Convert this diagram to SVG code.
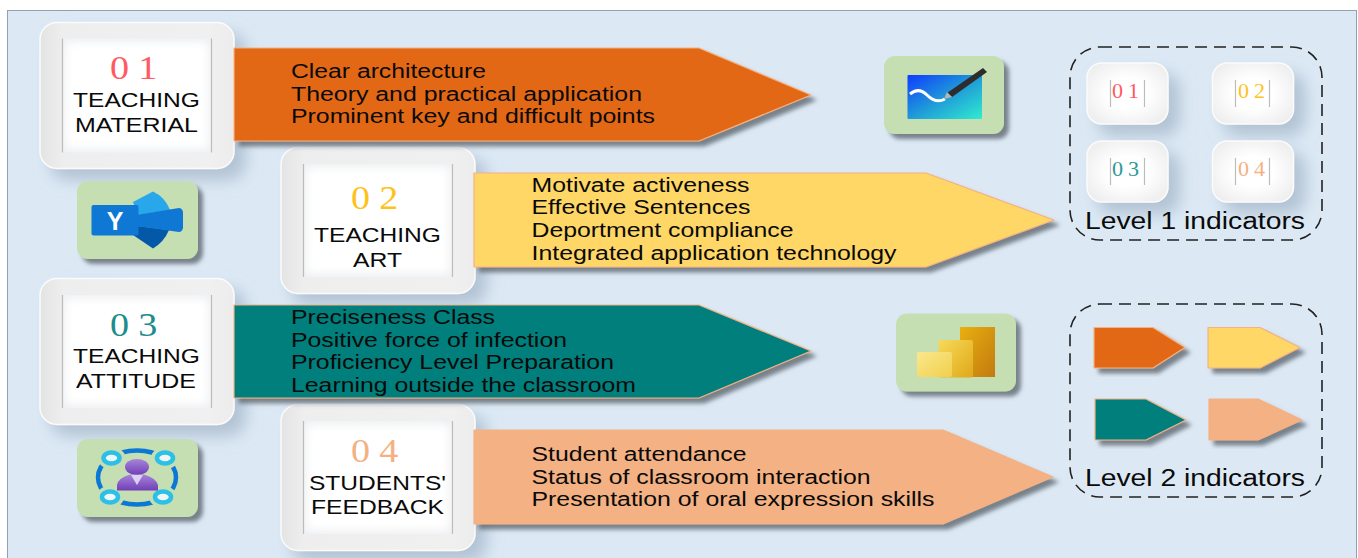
<svg xmlns="http://www.w3.org/2000/svg" width="1358" height="558" viewBox="0 0 1358 558">
<defs>
<style>
text{font-family:"Liberation Sans",Arial,sans-serif;fill:#0a0a0a}
.num{font-family:"Liberation Serif","Times New Roman",serif;font-size:33px;letter-spacing:8px}
.snum{font-family:"Liberation Serif","Times New Roman",serif;font-size:20px;letter-spacing:4.500px}
.lab{font-size:21px}
.body{font-size:19.5px}
.lvl{font-size:23px}
.card{fill:url(#cardG);stroke:#fbfbfb;stroke-width:1.5;filter:url(#soft)}
.sm{fill:url(#smG);stroke:#fbfbfb;stroke-width:1.5;filter:url(#soft)}
.inner{fill:#fff;filter:url(#fade)}
.edge{stroke:#bcbcbc;stroke-width:1.2}
.arrow{stroke:#f4b183;stroke-width:1.2;stroke-linejoin:bevel;filter:url(#hard)}
.tile{fill:#c5dfb3;filter:url(#hard)}
.dash{fill:none;stroke:#222;stroke-width:1.6;stroke-dasharray:12 7}
.c1{fill:#ff5a5f}.c2{fill:#ffc21c}.c3{fill:#1c8c8c}.c4{fill:#f4b183}
.s3{fill:#2a9a9a}
.f1{fill:#e36713}.f2{fill:#ffd766}.f3{fill:#007f7c}.f4{fill:#f4b183}
</style>
<linearGradient id="cardG" x1="0" y1="0" x2="1" y2="0"><stop offset="0" stop-color="#e4e4e4"/><stop offset=".12" stop-color="#eeeeee"/><stop offset=".88" stop-color="#f0f0f0"/><stop offset="1" stop-color="#ececec"/></linearGradient>
<radialGradient id="smG" cx=".5" cy=".5" r=".7"><stop offset=".35" stop-color="#ffffff"/><stop offset="1" stop-color="#e9e9e9"/></radialGradient>
<linearGradient id="wb" x1="0" y1="0" x2="1" y2="1"><stop offset="0" stop-color="#0f3cff"/><stop offset=".5" stop-color="#1f9ad8"/><stop offset="1" stop-color="#30ecd0"/></linearGradient>
<linearGradient id="pb1" x1="0" y1="0" x2="1" y2="1"><stop offset="0" stop-color="#e8b010"/><stop offset="1" stop-color="#c27a10"/></linearGradient>
<linearGradient id="pb2" x1="0" y1="0" x2="1" y2="1"><stop offset="0" stop-color="#f6da5a"/><stop offset="1" stop-color="#e0a818"/></linearGradient>
<linearGradient id="pb3" x1="0" y1="0" x2="1" y2="1"><stop offset="0" stop-color="#fbe88e"/><stop offset="1" stop-color="#f0cf4c"/></linearGradient>
<linearGradient id="pers" x1="0" y1="0" x2="0" y2="1"><stop offset="0" stop-color="#a884dc"/><stop offset="1" stop-color="#6f3fb4"/></linearGradient>
<filter id="soft" x="-20%" y="-20%" width="160%" height="160%"><feDropShadow dx="11" dy="11" stdDeviation="8" flood-color="#8fa3b8" flood-opacity=".55"/></filter>
<filter id="hard" x="-10%" y="-10%" width="125%" height="130%"><feDropShadow dx="5" dy="5" stdDeviation="2" flood-color="#5f6770" flood-opacity=".8"/></filter>
<filter id="fade" x="0" y="0" width="100%" height="100%"><feFlood flood-color="#eceef1" result="b"/><feMorphology in="SourceAlpha" operator="erode" radius="3" result="e"/><feGaussianBlur in="e" stdDeviation="5" result="g"/><feFlood flood-color="#ffffff"/><feComposite in2="g" operator="in" result="w"/><feMerge result="m"><feMergeNode in="b"/><feMergeNode in="w"/></feMerge><feComposite in="m" in2="SourceAlpha" operator="in"/></filter>
</defs>
<rect width="1358" height="558" fill="#ffffff"/>
<rect id="panel" x="7.5" y="10.5" width="1349" height="560" fill="#dce9f5" stroke="#93a0ad" stroke-width="1"/>

<g id="card1"><rect class="card" x="40" y="22.500" width="194" height="146" rx="17"/><rect class="inner" x="62" y="38.500" width="150" height="114"/><path class="edge" d="M62.500 38.500V152.500M211.500 38.500V152.500"/>
<text class="num c1" x="110" y="79" textLength="56.500" lengthAdjust="spacingAndGlyphs">01</text>
<text class="lab" x="73" y="107" textLength="127" lengthAdjust="spacingAndGlyphs">TEACHING</text>
<text class="lab" x="75" y="132" textLength="123" lengthAdjust="spacingAndGlyphs">MATERIAL</text></g>
<g id="card3"><rect class="card" x="40" y="278.500" width="194" height="146" rx="17"/><rect class="inner" x="62" y="295" width="150" height="113"/><path class="edge" d="M62.500 295V408M211.500 295V408"/>
<text class="num c3" x="110" y="336" textLength="56.500" lengthAdjust="spacingAndGlyphs">03</text>
<text class="lab" x="73" y="363" textLength="127" lengthAdjust="spacingAndGlyphs">TEACHING</text>
<text class="lab" x="76" y="388" textLength="120" lengthAdjust="spacingAndGlyphs">ATTITUDE</text></g>
<g id="card2"><rect class="card" x="281" y="147.500" width="194" height="146" rx="17"/><rect class="inner" x="303" y="164" width="150" height="113"/><path class="edge" d="M303.500 164V277M452.500 164V277"/>
<text class="num c2" x="351" y="209" textLength="56.500" lengthAdjust="spacingAndGlyphs">02</text>
<text class="lab" x="314" y="242" textLength="127" lengthAdjust="spacingAndGlyphs">TEACHING</text>
<text class="lab" x="353" y="267" textLength="49" lengthAdjust="spacingAndGlyphs">ART</text></g>
<g id="card4"><rect class="card" x="281" y="404.500" width="194" height="146" rx="17"/><rect class="inner" x="303" y="421" width="150" height="113"/><path class="edge" d="M303.500 421V534M452.500 421V534"/>
<text class="num c4" x="351" y="462" textLength="56.500" lengthAdjust="spacingAndGlyphs">04</text>
<text class="lab" x="309" y="490" textLength="137" lengthAdjust="spacingAndGlyphs">STUDENTS'</text>
<text class="lab" x="311" y="514" textLength="133" lengthAdjust="spacingAndGlyphs">FEEDBACK</text></g>

<g id="arrow1"><polygon class="arrow f1" points="234,48 699,48 811,95 699,141 234,141"/>
<text class="body" x="291" y="78" textLength="195" lengthAdjust="spacingAndGlyphs">Clear architecture</text>
<text class="body" x="291" y="101" textLength="351" lengthAdjust="spacingAndGlyphs">Theory and practical application</text>
<text class="body" x="291" y="123" textLength="364" lengthAdjust="spacingAndGlyphs">Prominent key and difficult points</text></g>
<g id="arrow3"><polygon class="arrow f3" points="234,305 699,305 811,351 699,398 234,398"/>
<text class="body" x="291" y="324" textLength="204" lengthAdjust="spacingAndGlyphs">Preciseness Class</text>
<text class="body" x="291" y="347" textLength="276" lengthAdjust="spacingAndGlyphs">Positive force of infection</text>
<text class="body" x="291" y="369" textLength="323" lengthAdjust="spacingAndGlyphs">Proficiency Level Preparation</text>
<text class="body" x="291" y="392" textLength="345" lengthAdjust="spacingAndGlyphs">Learning outside the classroom</text></g>
<g id="arrow2"><polygon class="arrow f2" points="474,173 926,173 1054,220 926,267 474,267"/>
<text class="body" x="531.500" y="192" textLength="218" lengthAdjust="spacingAndGlyphs">Motivate activeness</text>
<text class="body" x="531.500" y="214" textLength="219" lengthAdjust="spacingAndGlyphs">Effective Sentences</text>
<text class="body" x="531.500" y="237" textLength="262" lengthAdjust="spacingAndGlyphs">Deportment compliance</text>
<text class="body" x="531.500" y="260" textLength="365" lengthAdjust="spacingAndGlyphs">Integrated application technology</text></g>
<g id="arrow4"><polygon class="arrow f4" points="474,430 943,430 1053,477 943,524 474,524"/>
<text class="body" x="531.500" y="461" textLength="215" lengthAdjust="spacingAndGlyphs">Student attendance</text>
<text class="body" x="531.500" y="484" textLength="339" lengthAdjust="spacingAndGlyphs">Status of classroom interaction</text>
<text class="body" x="531.500" y="506" textLength="403" lengthAdjust="spacingAndGlyphs">Presentation of oral expression skills</text></g>

<g id="icon-yammer"><rect class="tile" x="77" y="181" width="121" height="78" rx="11"/>
<path d="M133 202L153 191.500Q165 197 170 210L138 215Z" fill="#28a8ea"/>
<path d="M133 235L153 248.500Q164 242 169 230L138 226Z" fill="#0358a7"/>
<path d="M136 215L179 208Q182 208 183 212V228Q182 232 179 232L136 226Z" fill="#0f78d4"/>
<rect x="91.500" y="205" width="47" height="30.500" rx="2" fill="#0f78d4"/>
<text x="115" y="229.500" text-anchor="middle" font-size="25" font-weight="700" style="fill:#fff">Y</text></g>

<g id="icon-whiteboard"><rect class="tile" x="884" y="56" width="120" height="78" rx="11"/>
<rect x="907.500" y="75" width="74.500" height="44" rx="1" fill="url(#wb)"/>
<path d="M910 94C916 89 922 90 927 95C932 100 938 103 945 99" fill="none" stroke="#fff" stroke-width="3"/>
<path d="M947 93L983 68L987 72L952 97Z" fill="#2d2d2d"/>
<path d="M947 92L952 97L944 99Z" fill="#b5b5b5"/></g>

<g id="icon-powerbi"><rect class="tile" x="896" y="313.500" width="120" height="78" rx="11"/>
<rect x="960" y="327" width="35" height="50" fill="url(#pb1)"/>
<rect x="938.500" y="340" width="34.500" height="37.500" rx="2" fill="url(#pb2)"/>
<rect x="917" y="352" width="35" height="25" rx="2" fill="url(#pb3)"/></g>

<g id="icon-people"><rect class="tile" x="77" y="439" width="121" height="78" rx="11"/>
<ellipse cx="137" cy="477.500" rx="39" ry="27" fill="none" stroke="#0a78d4" stroke-width="4.500"/>
<g fill="#c5dfb3"><ellipse cx="111.500" cy="458" rx="14" ry="11"/><ellipse cx="165" cy="458" rx="14" ry="11"/><ellipse cx="110" cy="497" rx="14" ry="11"/><ellipse cx="163" cy="497" rx="14" ry="11"/></g>
<g fill="#eef7f8" stroke="#2cc0e6" stroke-width="4.500"><ellipse cx="111.500" cy="458" rx="8" ry="5.500"/><ellipse cx="165" cy="458" rx="8" ry="5.500"/><ellipse cx="110" cy="497" rx="8" ry="5.500"/><ellipse cx="163" cy="497" rx="8" ry="5.500"/></g>
<ellipse cx="137" cy="467" rx="12" ry="8" fill="url(#pers)"/>
<path d="M117 490.500V485Q118 478 130 474.500H144Q156 478 158 485V490.500Z" fill="url(#pers)"/>
<path d="M131 475H143L137 485Z" fill="#ded0f2"/></g>

<g id="level1"><rect class="dash" x="1070" y="47" width="252" height="193" rx="30"/>
<g id="s1"><rect class="sm" x="1087" y="63" width="81" height="61" rx="15"/><path class="edge" d="M1110.500 80V107M1144.500 80V107"/><text class="snum c1" x="1112" y="98" textLength="32" lengthAdjust="spacingAndGlyphs">01</text></g>
<g id="s2"><rect class="sm" x="1212.500" y="63" width="81" height="61" rx="15"/><path class="edge" d="M1235.500 80V107M1269.500 80V107"/><text class="snum c2" x="1238" y="98" textLength="32" lengthAdjust="spacingAndGlyphs">02</text></g>
<g id="s3"><rect class="sm" x="1087" y="141" width="81" height="61" rx="15"/><path class="edge" d="M1110.500 158V185M1144.500 158V185"/><text class="snum s3" x="1112" y="176" textLength="32" lengthAdjust="spacingAndGlyphs">03</text></g>
<g id="s4"><rect class="sm" x="1212.500" y="141" width="81" height="61" rx="15"/><path class="edge" d="M1235.500 158V185M1269.500 158V185"/><text class="snum c4" x="1238" y="176" textLength="32" lengthAdjust="spacingAndGlyphs">04</text></g>
<text class="lvl" x="1085" y="229" textLength="220" lengthAdjust="spacingAndGlyphs">Level 1 indicators</text></g>

<g id="level2"><rect class="dash" x="1070" y="304" width="252" height="193" rx="30"/>
<polygon class="arrow f1" points="1094,327.500 1153,327.500 1185,347.500 1153,368 1094,368"/>
<polygon class="arrow f2" points="1208,327.500 1260,327.500 1300,347.500 1260,368 1208,368"/>
<polygon class="arrow f3" points="1095,399 1146,399 1186,420 1146,440 1095,440"/>
<polygon class="arrow f4" points="1209,399 1258,399 1302,420 1258,440 1209,440"/>
<text class="lvl" x="1085" y="486" textLength="220" lengthAdjust="spacingAndGlyphs">Level 2 indicators</text></g>
</svg>
